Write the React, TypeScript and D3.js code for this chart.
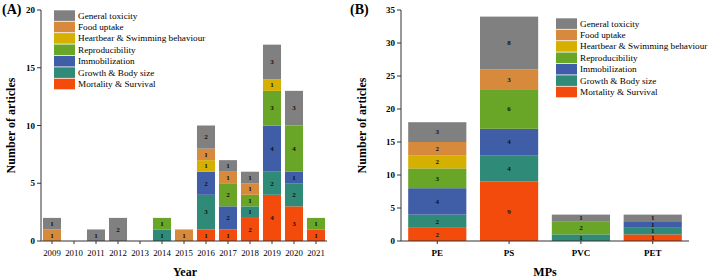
import React from "react";
import * as d3 from "d3";

const series = [
  "Mortality & Survival",
  "Growth & Body size",
  "Immobilization",
  "Reproducibility",
  "Heartbear & Swimming behaviour",
  "Food uptake",
  "General toxicity",
];
const colors = ["#f24b0c", "#2f8a78", "#405ea8", "#69a526", "#d6b000", "#d78a3b", "#808080"];

const years = ["2009","2010","2011","2012","2013","2014","2015","2016","2017","2018","2019","2020","2021"];
const mortalityA = [0,0,0,0,0,0,0,1,1,2,4,3,1];
const growthA = [0,0,0,0,0,1,0,3,0,1,2,2,0];
const immobA = [0,0,0,0,0,0,0,2,2,0,4,1,0];
const reproA = [0,0,0,0,0,1,0,0,2,1,3,4,1];
const heartA = [0,0,0,0,0,0,0,1,0,0,1,0,0];
const foodA = [1,0,0,0,0,0,1,1,1,1,0,0,0];
const generalA = [1,0,1,2,0,0,0,2,1,1,3,3,0];
const seriesA = [mortalityA, growthA, immobA, reproA, heartA, foodA, generalA];
const ticksA = [0,5,10,15,20];

const mps = ["PE","PS","PVC","PET"];
const mortalityB = [2,9,0,1];
const growthB = [2,4,1,1];
const immobB = [4,4,0,1];
const reproB = [3,6,2,0];
const heartB = [2,0,0,0];
const foodB = [2,3,0,0];
const generalB = [3,8,1,1];
const seriesB = [mortalityB, growthB, immobB, reproB, heartB, foodB, generalB];
const ticksB = [0,5,10,15,20,25,30,35];

const font = "'Liberation Serif', 'Times New Roman', serif";

type PanelProps = {
  cats: string[];
  data: number[][];
  yMax: number;
  ticks: number[];
  x0: number; x1: number;
  y0: number; y1: number;
  pi: number; po: number;
  label: string; xTitle: string;
  titleX: number; yLabelX: number; xTitleX: number;
  legendX: number; legendY: number;
  catBold: boolean;
};

function Panel(p: PanelProps) {
  const x = d3.scaleBand<string>().domain(p.cats).range([p.x0, p.x1]).paddingInner(p.pi).paddingOuter(p.po);
  const y = d3.scaleLinear().domain([0, p.yMax]).range([p.y0, p.y1]);
  const stackData = p.cats.map((c, i) => {
    const o: any = { cat: c };
    series.forEach((s, k) => (o[s] = p.data[k][i]));
    return o;
  });
  const stacked = d3.stack<any>().keys(series)(stackData);
  return (
    <g>
      <text x={p.titleX} y={14} fontFamily={font} fontWeight="bold" fontSize={14}>{p.label}</text>
      {stacked.map((layer, k) => (
        <g key={k}>
          {layer.map((d, i) => {
            const v = d[1] - d[0];
            if (v <= 0) return null;
            const bx = x(p.cats[i])!;
            return (
              <g key={i}>
                <rect x={bx} y={y(d[1])} width={x.bandwidth()} height={y(d[0]) - y(d[1])} fill={colors[k]} />
                <text x={bx + x.bandwidth() / 2} y={(y(d[0]) + y(d[1])) / 2 + 2.3} textAnchor="middle" fontFamily={font} fontWeight="bold" fontSize={7} fill="#111">{v}</text>
              </g>
            );
          })}
        </g>
      ))}
      <line x1={p.x0} x2={p.x0} y1={p.y0} y2={p.y1} stroke="#333" strokeWidth={1} />
      <line x1={p.x0} x2={p.x1} y1={p.y0} y2={p.y0} stroke="#333" strokeWidth={1} />
      {p.ticks.map((t) => (
        <g key={t}>
          <line x1={p.x0 - 4} x2={p.x0} y1={y(t)} y2={y(t)} stroke="#333" />
          <text x={p.x0 - 6} y={y(t) + 3} textAnchor="end" fontFamily={font} fontWeight="bold" fontSize={9}>{t}</text>
        </g>
      ))}
      {p.cats.map((c) => (
        <g key={c}>
          <line x1={x(c)! + x.bandwidth() / 2} x2={x(c)! + x.bandwidth() / 2} y1={p.y0} y2={p.y0 + 3} stroke="#333" />
          <text x={x(c)! + x.bandwidth() / 2} y={p.y0 + 15} textAnchor="middle" fontFamily={font} fontWeight={p.catBold ? "bold" : "normal"} fontSize={p.catBold ? 9 : 8.8}>{c}</text>
        </g>
      ))}
      <text x={p.xTitleX} y={276} textAnchor="middle" fontFamily={font} fontWeight="bold" fontSize={12}>{p.xTitle}</text>
      <text transform={`translate(${p.yLabelX},${(p.y0 + p.y1) / 2}) rotate(-90)`} textAnchor="middle" fontFamily={font} fontWeight="bold" fontSize={12}>Number of articles</text>
      {series.slice().reverse().map((s, i) => {
        const k = series.length - 1 - i;
        return (
          <g key={s}>
            <rect x={p.legendX} y={p.legendY + i * 11.4} width={21} height={10.6} fill={colors[k]} />
            <text x={p.legendX + 24} y={p.legendY + i * 11.4 + 8.3} fontFamily={font} fontSize={9.2}>{s}</text>
          </g>
        );
      })}
    </g>
  );
}

export default function App() {
  return (
    <svg width={709} height={280} style={{ position: "absolute", left: 0, top: 0, background: "#fff" }}>
      <rect width={709} height={280} fill="#fff" />
      <Panel cats={years} data={seriesA} yMax={20} ticks={ticksA} x0={41} x1={327} y0={241} y1={10}
        pi={0.18} po={0.09} label="(A)" xTitle="Year" titleX={2} yLabelX={15} xTitleX={185}
        legendX={54} legendY={10.3} catBold={false} />
      <Panel cats={mps} data={seriesB} yMax={35} ticks={ticksB} x0={401} x1={689} y0={241} y1={10}
        pi={0.19} po={0.1} label="(B)" xTitle="MPs" titleX={350} yLabelX={366} xTitleX={545}
        legendX={556} legendY={18.3} catBold={true} />
    </svg>
  );
}
